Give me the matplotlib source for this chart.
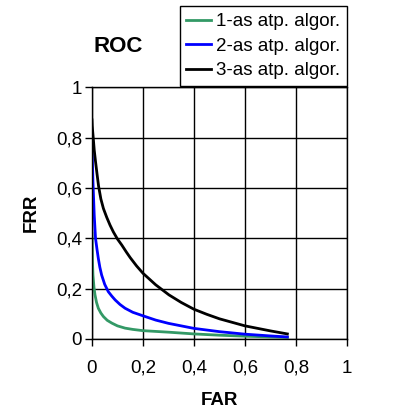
import matplotlib.pyplot as plt
import numpy as np

plt.rcParams['font.family'] = ['Liberation Sans', 'DejaVu Sans']

# 1-as algoritmas
x1 = np.array([0, 0.001, 0.002, 0.004, 0.008, 0.012, 0.018, 0.025, 0.035, 0.045, 0.06, 0.078,
               0.1, 0.13, 0.16, 0.2, 0.25, 0.3, 0.4, 0.5, 0.6, 0.7, 0.766])
y1 = np.array([0.42, 0.386, 0.31, 0.254, 0.205, 0.175, 0.145, 0.122, 0.103, 0.089, 0.074, 0.063,
               0.052, 0.043, 0.038, 0.033, 0.030, 0.027, 0.020, 0.015, 0.011, 0.008, 0.006])

# 2-as algoritmas
x2 = np.array([0, 0.002, 0.004, 0.009, 0.014, 0.02, 0.025, 0.031, 0.038, 0.05, 0.064, 0.078,
               0.091, 0.11, 0.13, 0.16, 0.2, 0.25, 0.3, 0.4, 0.5, 0.6, 0.7, 0.766])
y2 = np.array([0.77, 0.70, 0.623, 0.491, 0.40, 0.355, 0.32, 0.285, 0.254, 0.217, 0.188, 0.17,
               0.155, 0.137, 0.122, 0.106, 0.092, 0.075, 0.062, 0.042, 0.029, 0.019, 0.012, 0.008])

# 3-as algoritmas
x3 = np.array([0, 0.001, 0.005, 0.009, 0.014, 0.02, 0.026, 0.035, 0.045, 0.058, 0.071, 0.084,
               0.1, 0.117, 0.135, 0.15, 0.175, 0.2, 0.25, 0.302, 0.35, 0.4, 0.45, 0.5, 0.6, 0.7, 0.766])
y3 = np.array([0.87, 0.847, 0.80, 0.75, 0.705, 0.655, 0.607, 0.556, 0.518, 0.483, 0.452, 0.425,
               0.397, 0.373, 0.345, 0.323, 0.29, 0.261, 0.215, 0.175, 0.145, 0.118, 0.098, 0.08,
               0.052, 0.032, 0.02])

labels = ["1-as atp. algor.", "2-as atp. algor.", "3-as atp. algor."]
ticks = [0, 0.2, 0.4, 0.6, 0.8, 1]
tick_labels = ["0", "0,2", "0,4", "0,6", "0,8", "1"]

fig = plt.figure(figsize=(3.98, 4.19), dpi=100)
ax = fig.add_axes([0.231, 0.191, 0.641, 0.601])

ax.plot(x1, y1, color='#339966', linewidth=2, label=labels[0])
ax.plot(x2, y2, color='#0000FF', linewidth=2, label=labels[1])
ax.plot(x3, y3, color='black', linewidth=2, label=labels[2])

ax.set_xlim(0, 1)
ax.set_ylim(0, 1)
ax.set_xticks(ticks)
ax.set_xticklabels(tick_labels, fontsize=13.5)
ax.set_yticks(ticks)
ax.set_yticklabels(tick_labels, fontsize=13.5)
ax.tick_params(direction='out', length=5, width=1, color='black')
ax.tick_params(axis='x', pad=10)
ax.tick_params(axis='y', pad=2)
ax.grid(True, color='black', linewidth=1)
for s in ax.spines.values():
    s.set_color('black')
    s.set_linewidth(1)

ax.set_xlabel("FAR", fontsize=13.5, fontweight='bold', labelpad=11)
ax.set_ylabel("FRR", fontsize=13.5, fontweight='bold', labelpad=12)

fig.text(0.296, 0.89, "ROC", fontsize=16, fontweight='bold', ha='center', va='center')

leg = ax.legend(loc='lower right', bbox_to_anchor=(1.0, 1.005), borderaxespad=0,
                fontsize=13.5, fancybox=False, framealpha=1, edgecolor='black',
                handlelength=1.3, handletextpad=0.3, labelspacing=0.4,
                borderpad=0.35)
leg.get_frame().set_linewidth(1)

plt.savefig('out.png', dpi=100)
